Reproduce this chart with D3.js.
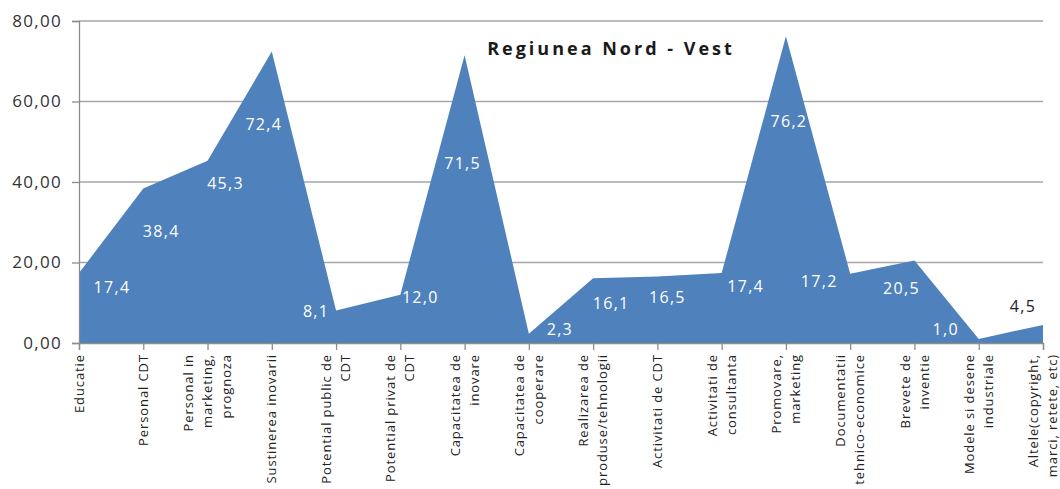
<!DOCTYPE html>
<html>
<head>
<meta charset="utf-8">
<script src="https://cdn.jsdelivr.net/npm/d3@7"></script>
<style>
  body { margin: 0; background: #fff; }
  svg { display: block; }
</style>
</head>
<body>
<svg width="1060" height="489"></svg>
<script>
// Data
var categories = [
  ["Educatie"],
  ["Personal CDT"],
  ["Personal in", "marketing,", "prognoza"],
  ["Sustinerea inovarii"],
  ["Potential public de", "CDT"],
  ["Potential privat de", "CDT"],
  ["Capacitatea de", "inovare"],
  ["Capacitatea de", "cooperare"],
  ["Realizarea de", "produse/tehnologii"],
  ["Activitati de CDT"],
  ["Activitati de", "consultanta"],
  ["Promovare,", "marketing"],
  ["Documentatii", "tehnico-economice"],
  ["Brevete de", "inventie"],
  ["Modele si desene", "industriale"],
  ["Altele(copyright,", "marci, retete, etc)"]
];
var values = [17.4, 38.4, 45.3, 72.4, 8.1, 12.0, 71.5, 2.3, 16.1, 16.5, 17.4, 76.2, 17.2, 20.5, 1.0, 4.5];
var yTicks = [0, 20, 40, 60, 80];
var title = "Regiunea Nord - Vest";

// The svg
var svg = d3.select("svg"),
  width = +svg.attr("width"),
  height = +svg.attr("height");

var margin = {left: 79, right: 17, top: 21, bottom: 146};

var x = d3.scalePoint()
  .domain(d3.range(values.length))
  .range([margin.left, width - margin.right]);

var y = d3.scaleLinear()
  .domain([0, 80])
  .range([height - margin.bottom, margin.top]);

var fmt = function(v, n) { return v.toFixed(n).replace(".", ","); };

// gridlines
svg.append("g")
  .selectAll("line")
  .data(yTicks)
  .enter()
  .append("line")
    .attr("x1", margin.left)
    .attr("x2", width - margin.right)
    .attr("y1", function(d) { return y(d); })
    .attr("y2", function(d) { return y(d); })
    .attr("stroke", "#a6a6a6")
    .attr("stroke-width", 1.3);

// the area
var area = d3.area()
  .x(function(d, i) { return x(i); })
  .y0(y(0))
  .y1(function(d) { return y(d); });

svg.append("path")
  .datum(values)
  .attr("d", area)
  .attr("fill", "#4f81bd");

// y axis
var yAxis = svg.append("g")
  .attr("transform", "translate(" + margin.left + ",0)")
  .call(d3.axisLeft(y).tickValues(yTicks).tickSize(7).tickPadding(10)
    .tickFormat(function(d) { return fmt(d, 2); }));
yAxis.select(".domain").attr("stroke", "#8c8c8c").attr("stroke-width", 1.3);
yAxis.selectAll(".tick line").attr("stroke", "#8c8c8c").attr("stroke-width", 1.3);
yAxis.selectAll("text")
  .attr("fill", "#333")
  .style("font-family", "'Open Sans', sans-serif")
  .style("font-size", "17px")
  .style("letter-spacing", "1.3px");

// x axis
var xAxis = svg.append("g")
  .attr("transform", "translate(0," + y(0) + ")")
  .call(d3.axisBottom(x).tickSize(7).tickFormat(""));
xAxis.select(".domain").attr("stroke", "#8c8c8c").attr("stroke-width", 1.3);
xAxis.selectAll(".tick line").attr("stroke", "#8c8c8c").attr("stroke-width", 1.3);

// category labels, rotated; long ones just fit above the bottom edge
var lh = 19;
svg.append("g")
  .selectAll("text")
  .data(categories)
  .enter()
  .append("text")
    .attr("transform", function(d, i) { return "translate(" + x(i) + "," + (y(0) + 11) + ") rotate(-90)"; })
    .attr("text-anchor", "end")
    .attr("fill", "#222")
    .style("font-family", "'Open Sans', sans-serif")
    .style("font-size", "13px")
    .style("letter-spacing", "0.9px")
    .each(function(d) {
      var t = d3.select(this);
      d.forEach(function(line, k) {
        t.append("tspan")
          .attr("x", 0)
          .attr("y", (k - (d.length - 1) / 2) * lh)
          .attr("dy", "0.35em")
          .text(line);
      });
    });

// data labels, nudged the way they sit in the original
var nudge = [[33, 14], [18, 43], [18, 23], [-8, 73], [-20, 1], [20, 3], [-2, 108], [31, -4],
             [18, 25], [10, 21], [24, 13], [3, 85], [-31, 8], [-13, 28], [-33, -10], [-20, -18]];
var topAt = function(px) {
  var s = x.step(), i = Math.max(0, Math.min(values.length - 2, Math.floor((px - margin.left) / s)));
  var t = (px - x(i)) / s;
  return y(values[i] + (values[i + 1] - values[i]) * t);
};
svg.append("g")
  .selectAll("text")
  .data(values)
  .enter()
  .append("text")
    .attr("x", function(d, i) { return x(i) + nudge[i][0]; })
    .attr("y", function(d, i) { return y(d) + nudge[i][1]; })
    .attr("dy", "0.35em")
    .attr("text-anchor", "middle")
    .attr("fill", function(d, i) {
      var px = x(i) + nudge[i][0], py = y(d) + nudge[i][1];
      return py + 6 < topAt(px) ? "#222" : "#fff";
    })
    .style("font-family", "'Open Sans', sans-serif")
    .style("font-size", "16px")
    .style("letter-spacing", "1.3px")
    .text(function(d) { return fmt(d, 1); });

// title
svg.append("text")
  .attr("x", 611)
  .attr("y", 55)
  .attr("text-anchor", "middle")
  .attr("fill", "#1a1a1a")
  .style("font-family", "'Open Sans', sans-serif")
  .style("font-weight", "bold")
  .style("font-size", "18px")
  .style("letter-spacing", "3px")
  .text(title);
</script>
</body>
</html>
